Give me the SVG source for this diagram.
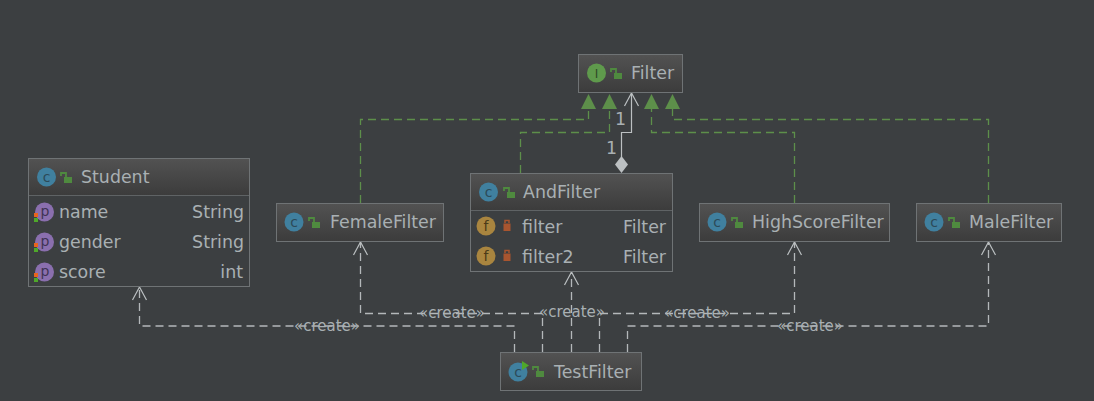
<svg xmlns="http://www.w3.org/2000/svg" width="1094" height="401" viewBox="0 0 1094 401">
<style>
text{font-family:"DejaVu Sans",sans-serif;font-size:17.400px;fill:#a9b0b3}
.box{fill:#3c3f41;stroke:#6f7375;stroke-width:1}
.sep{stroke:#5f6365;stroke-width:1}
.dash{fill:none;stroke:#b4b8ba;stroke-width:1.300;stroke-dasharray:8 5}
.real{fill:none;stroke:#5d8f4a;stroke-width:1.300;stroke-dasharray:8 5}
.solid{fill:none;stroke:#bcc0c2;stroke-width:1.200}
.tri{fill:#5d8f4a}
.ic{font-size:14px;text-anchor:middle;fill:#2c4a58}
.m{font-size:15px;text-anchor:middle}
.r{text-anchor:end}
</style>
<defs>
<linearGradient id="h" x1="0" y1="0" x2="0" y2="1"><stop offset="0" stop-color="#525252"/><stop offset="1" stop-color="#3c3c3c"/></linearGradient>
<path id="open" d="M-7 13L0 0L7 13" fill="none" stroke="#bcc0c2" stroke-width="1.200"/>
<g id="lock"><path d="M-1 1V-4H-6V-1" fill="none" stroke="#4f8a3f" stroke-width="1.800"/><rect x="-3" y="0" width="8" height="6" fill="#4f8a3f"/></g>
<g id="priv"><path d="M-2 -3v-2.500h4v2.500" fill="none" stroke="#a9552f" stroke-width="1.500"/><rect x="-3.500" y="-2.500" width="7" height="7.500" fill="#a9552f"/></g>
<circle id="cc" r="9.500" fill="#40809f"/>
<circle id="cp" r="9.500" fill="#8a6fae"/>
<circle id="cf" r="9.500" fill="#a9853f"/>
<g id="vis"><rect x="-1" y="0" width="4" height="4" fill="#e8641f"/><rect x="-1" y="5" width="4" height="4" fill="#4fa82a"/></g>
</defs>
<rect width="1094" height="401" fill="#3c3f41"/>
<g id="connectors">
<path class="real" d="M360.500 203V119.500H588.500V108"/>
<path class="real" d="M520.500 173V132.500H609.500V108"/>
<path class="real" d="M794.500 203V132.500H651.500V108"/>
<path class="real" d="M988.500 203V119.500H672.500V108"/>
<path class="tri" d="M588.500 94l7.500 15h-15z"/>
<path class="tri" d="M609.500 94l7.500 15h-15z"/>
<path class="tri" d="M651.500 94l7.500 15h-15z"/>
<path class="tri" d="M672.500 94l7.500 15h-15z"/>
<path class="solid" d="M621.500 157V132.500H631.500V93"/>
<use href="#open" x="631.500" y="93"/>
<path d="M621.500 156l6.500 8.500-6.500 8.500-6.500-8.500z" fill="#bcc0c2"/>
<text x="615" y="125">1</text>
<text x="606" y="154">1</text>
<path class="dash" d="M514.500 352V326H139.500V288"/>
<path class="dash" d="M542.500 352V313.500H360.500V242"/>
<path class="dash" d="M571.500 352V272"/>
<path class="dash" d="M599.500 352V313.500H794.500V242"/>
<path class="dash" d="M627.500 352V326H988.500V242"/>
<use href="#open" x="139.500" y="287"/>
<use href="#open" x="360.500" y="242"/>
<use href="#open" x="571.500" y="272"/>
<use href="#open" x="794.500" y="242"/>
<use href="#open" x="988.500" y="242"/>
<text class="m" x="327" y="331">«create»</text>
<text class="m" x="452" y="318">«create»</text>
<text class="m" x="572" y="317">«create»</text>
<text class="m" x="697" y="318">«create»</text>
<text class="m" x="810" y="331">«create»</text>
</g>
<g id="Student">
<rect class="box" x="28.500" y="158.500" width="221" height="128"/>
<rect x="29" y="159" width="220" height="36" fill="url(#h)"/>
<line class="sep" x1="29" y1="195.500" x2="249" y2="195.500"/>
<use href="#cc" x="46.500" y="177"/><text class="ic" x="46.500" y="181.500">c</text>
<use href="#lock" x="67" y="177"/>
<text x="81" y="183">Student</text>
<use href="#cp" x="44.500" y="212"/><text class="ic" x="45" y="216" style="fill:#3f3355">p</text><use href="#vis" x="35" y="213"/>
<text x="59" y="218">name</text><text class="r" x="244" y="218">String</text>
<use href="#cp" x="44.500" y="242"/><text class="ic" x="45" y="246" style="fill:#3f3355">p</text><use href="#vis" x="35" y="243"/>
<text x="59" y="248">gender</text><text class="r" x="244" y="248">String</text>
<use href="#cp" x="44.500" y="272"/><text class="ic" x="45" y="276" style="fill:#3f3355">p</text><use href="#vis" x="35" y="273"/>
<text x="59" y="278">score</text><text class="r" x="243" y="278">int</text>
</g>
<g id="Filter">
<rect class="box" x="578.500" y="54.500" width="104" height="38"/>
<rect x="579" y="55" width="103" height="37" fill="url(#h)"/>
<circle cx="596.500" cy="73" r="9.500" fill="#5f9a4c"/><text class="ic" x="596.500" y="77.500" style="fill:#2f4a28;font-size:12px">I</text>
<use href="#lock" x="617" y="73"/>
<text x="631" y="79">Filter</text>
</g>
<g id="FemaleFilter">
<rect class="box" x="276.500" y="203.500" width="167" height="38"/>
<rect x="277" y="204" width="166" height="37" fill="url(#h)"/>
<use href="#cc" x="294" y="222"/><text class="ic" x="294" y="226.500">c</text>
<use href="#lock" x="315" y="222"/>
<text x="330" y="228">FemaleFilter</text>
</g>
<g id="AndFilter">
<rect class="box" x="470.500" y="173.500" width="202" height="98"/>
<rect x="471" y="174" width="201" height="36" fill="url(#h)"/>
<line class="sep" x1="471" y1="210.500" x2="672" y2="210.500"/>
<use href="#cc" x="488.500" y="192"/><text class="ic" x="488.500" y="196.500">c</text>
<use href="#lock" x="510" y="192"/>
<text x="523" y="198">AndFilter</text>
<use href="#cf" x="486" y="226"/><text class="ic" x="486" y="231" style="fill:#4a3a18">f</text><use href="#priv" x="507" y="226"/>
<text x="522" y="233">filter</text><text class="r" x="666" y="233">Filter</text>
<use href="#cf" x="486" y="256"/><text class="ic" x="486" y="261" style="fill:#4a3a18">f</text><use href="#priv" x="507" y="256"/>
<text x="522" y="263">filter2</text><text class="r" x="666" y="263">Filter</text>
</g>
<g id="HighScoreFilter">
<rect class="box" x="699.500" y="203.500" width="190" height="38"/>
<rect x="700" y="204" width="189" height="37" fill="url(#h)"/>
<use href="#cc" x="717" y="222"/><text class="ic" x="717" y="226.500">c</text>
<use href="#lock" x="738" y="222"/>
<text x="752" y="228">HighScoreFilter</text>
</g>
<g id="MaleFilter">
<rect class="box" x="916.500" y="203.500" width="145" height="38"/>
<rect x="917" y="204" width="144" height="37" fill="url(#h)"/>
<use href="#cc" x="934" y="222"/><text class="ic" x="934" y="226.500">c</text>
<use href="#lock" x="955" y="222"/>
<text x="969" y="228">MaleFilter</text>
</g>
<g id="TestFilter">
<rect class="box" x="500.500" y="352.500" width="141" height="38"/>
<rect x="501" y="353" width="140" height="37" fill="url(#h)"/>
<use href="#cc" x="518" y="372"/><text class="ic" x="518" y="376.500">c</text>
<path d="M522 361l7 4.500-7 4.500z" fill="#4fa82a"/>
<use href="#lock" x="539" y="371"/>
<text x="554" y="378">TestFilter</text>
</g>
</svg>
